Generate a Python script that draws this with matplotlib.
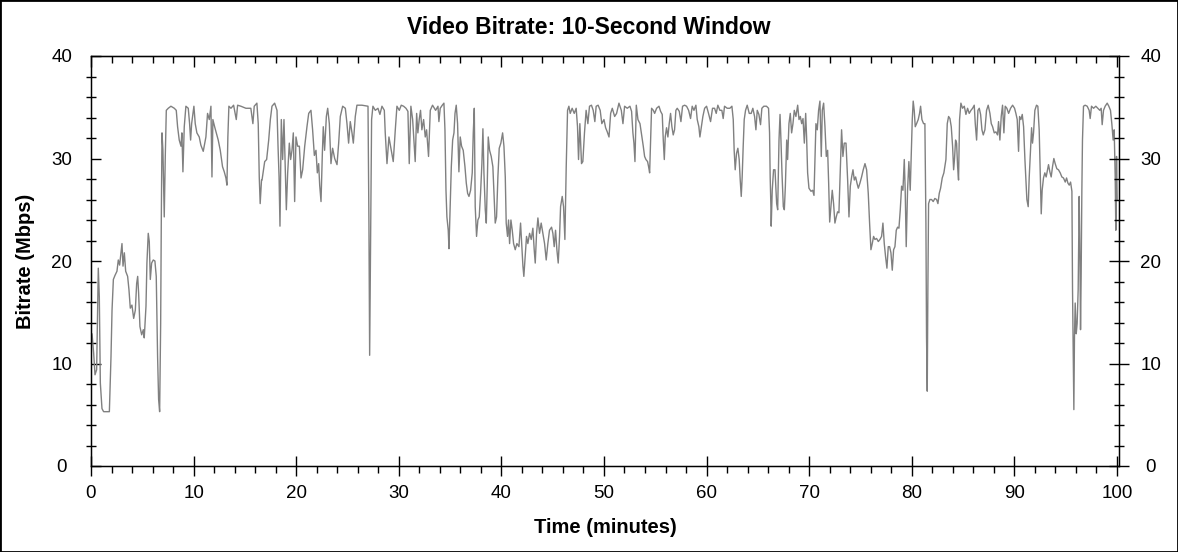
import matplotlib
matplotlib.use("Agg")
import matplotlib.pyplot as plt
from matplotlib.patches import Rectangle
from matplotlib.ticker import MultipleLocator

plt.rcParams['font.family'] = ['Liberation Sans', 'DejaVu Sans']

# minutes, Mbps
time_min = [
    0.0, 0.1, 0.26, 0.39, 0.55, 0.71, 0.81, 0.91, 1.07, 1.23, 1.79, 1.95, 2.05, 2.18, 2.34, 2.53, 2.66, 2.79,
    3.02, 3.12, 3.25, 3.38, 3.57, 3.70, 3.83, 3.99, 4.16, 4.32, 4.45, 4.55, 4.64, 4.77, 4.94, 5.10, 5.19, 5.36,
    5.45, 5.58, 5.68, 5.78, 5.91, 6.07, 6.23, 6.36, 6.49, 6.59, 6.69, 6.79, 6.85, 6.92, 7.01, 7.14, 7.24, 7.34,
    7.53, 7.79, 8.12, 8.31, 8.44, 8.60, 8.77, 8.86, 8.96, 9.09, 9.25, 9.48, 9.61, 9.71, 9.81, 9.94, 10.03, 10.16,
    10.32, 10.55, 10.71, 10.94, 11.20, 11.36, 11.53, 11.69, 11.79, 11.88, 12.05, 12.21, 12.40, 12.60, 12.82,
    12.99, 13.15, 13.25, 13.34, 13.44, 13.64, 13.90, 14.16, 14.29, 14.61, 15.10, 15.58, 15.78, 15.91, 16.17,
    16.30, 16.40, 16.49, 16.62,
    16.67, 16.93, 17.12, 17.32, 17.48, 17.64, 17.90, 18.13, 18.23, 18.33, 18.42, 18.55, 18.68, 18.81, 18.94,
    19.04, 19.17, 19.33, 19.46, 19.59, 19.72, 19.85, 19.98, 20.14, 20.31, 20.47, 20.63, 20.83, 21.05, 21.22,
    21.44, 21.60, 21.77, 21.93, 22.06, 22.19, 22.29, 22.42, 22.55, 22.64, 22.77, 22.94, 23.07, 23.23, 23.39,
    23.55, 23.75, 23.98, 24.14, 24.30, 24.53, 24.79, 24.95, 25.11, 25.27, 25.44, 25.57, 25.76, 25.92, 26.41,
    27.00, 27.09, 27.16, 27.25, 27.35, 27.48, 27.71, 27.97, 28.16, 28.36, 28.59, 28.68, 28.85, 29.04, 29.27,
    29.46, 29.66, 29.82, 30.05, 30.24, 30.47, 30.70, 30.89, 31.02, 31.18, 31.35, 31.47, 31.60, 31.74, 31.86,
    31.99, 32.12, 32.25, 32.42, 32.58, 32.71, 32.90, 33.07, 33.29,
    33.59, 33.82, 33.91, 34.04, 34.24, 34.40, 34.50, 34.60, 34.69, 34.82, 34.89, 34.99, 35.12, 35.25, 35.38,
    35.48, 35.60, 35.73, 35.86, 35.99, 36.12, 36.28, 36.45, 36.58, 36.71, 36.84, 37.00, 37.16, 37.26, 37.36,
    37.45, 37.58, 37.71, 37.84, 37.97, 38.10, 38.20, 38.30, 38.43, 38.53, 38.62, 38.72, 38.85, 39.01, 39.17,
    39.30, 39.40, 39.53, 39.66, 39.79, 39.95, 40.12, 40.25, 40.38, 40.47, 40.60, 40.70, 40.80, 40.93, 41.06,
    41.19, 41.35, 41.51, 41.71, 41.87, 42.00, 42.10, 42.19, 42.32, 42.45, 42.58, 42.75, 42.91, 43.07, 43.20,
    43.30, 43.43, 43.56, 43.72, 43.88, 44.04, 44.21, 44.37, 44.53, 44.69, 44.89, 45.02, 45.15, 45.28, 45.41,
    45.54, 45.67, 45.77, 45.93, 46.06, 46.19, 46.32, 46.45, 46.58, 46.71, 46.90, 47.10, 47.29, 47.42, 47.52,
    47.65, 47.81, 47.94, 48.10, 48.26, 48.43, 48.59, 48.78, 48.95, 49.11, 49.24, 49.43, 49.63, 49.79,
    50.00, 50.16, 50.32, 50.49, 50.65, 50.81, 51.04, 51.23, 51.46, 51.69, 51.85, 52.01, 52.27, 52.53, 52.69,
    52.82, 52.92, 53.02, 53.15, 53.31, 53.51, 53.70, 53.83, 53.96, 54.09, 54.25, 54.35, 54.45, 54.55, 54.64,
    54.81, 54.94, 55.13, 55.36, 55.52, 55.68, 55.78, 55.88, 55.97, 56.10, 56.23, 56.36, 56.49, 56.62, 56.75,
    56.88, 57.01, 57.14, 57.34, 57.50, 57.66, 57.86, 58.05, 58.25, 58.44, 58.60, 58.77, 58.96, 59.09, 59.25,
    59.35, 59.48, 59.64, 59.81, 60.00, 60.19, 60.39, 60.58, 60.78, 60.94, 61.10, 61.30, 61.49, 61.62, 61.75,
    62.01, 62.27, 62.47, 62.60, 62.69, 62.79, 62.92, 63.05, 63.18, 63.28, 63.38, 63.47, 63.57, 63.67, 63.80,
    63.96, 64.16, 64.35, 64.51, 64.68, 64.81, 64.94, 65.10, 65.26, 65.39, 65.58, 65.84, 66.04, 66.14, 66.20,
    66.27, 66.30, 66.40, 66.53,
    66.67, 66.83, 66.93, 67.06, 67.16, 67.25, 67.35, 67.48, 67.58, 67.68, 67.81, 67.90, 68.03, 68.16, 68.29,
    68.42, 68.55, 68.71, 68.88, 69.01, 69.14, 69.27, 69.40, 69.53, 69.66, 69.75, 69.85, 69.98, 70.18, 70.34,
    70.47, 70.57, 70.66, 70.79, 70.92, 71.05, 71.18, 71.28, 71.41, 71.54, 71.67, 71.80, 71.90, 72.00, 72.12,
    72.25, 72.38, 72.51, 72.64, 72.77, 72.90, 73.03, 73.16, 73.29, 73.42, 73.59, 73.75, 73.88, 74.01, 74.14,
    74.27, 74.40, 74.53, 74.66, 74.79, 74.95, 75.11, 75.27, 75.44, 75.60, 75.76, 75.89, 76.02, 76.15, 76.28,
    76.41, 76.57, 76.74, 76.90, 77.06, 77.19, 77.32, 77.45, 77.58, 77.71, 77.84, 77.97, 78.10, 78.23, 78.36,
    78.49, 78.62, 78.75, 78.88, 79.01, 79.14, 79.27, 79.36, 79.46, 79.59, 79.72, 79.85, 79.95, 80.05, 80.14,
    80.24, 80.34, 80.47, 80.63, 80.76, 80.86, 80.99, 81.15, 81.28, 81.38, 81.44, 81.51, 81.57, 81.64, 81.77,
    81.93, 82.09, 82.25, 82.42, 82.55, 82.68, 82.81, 82.97, 83.13,
    83.33, 83.46, 83.59, 83.72, 83.85, 83.98, 84.08, 84.17, 84.27, 84.37, 84.47, 84.56, 84.66, 84.79, 84.95,
    85.12, 85.28, 85.44, 85.60, 85.77, 85.93, 86.09, 86.19, 86.32, 86.45, 86.58, 86.71, 86.84, 86.97, 87.13,
    87.29, 87.45, 87.62, 87.75, 87.88, 88.04, 88.20, 88.36, 88.46, 88.59, 88.72, 88.85, 88.98, 89.11, 89.27,
    89.44, 89.63, 89.83, 90.02, 90.15, 90.28, 90.41, 90.51, 90.64, 90.77, 90.90, 91.03, 91.13, 91.22, 91.35,
    91.45, 91.58, 91.68, 91.77, 91.87, 92.00, 92.16, 92.29, 92.42, 92.52, 92.62, 92.71, 92.84, 92.97, 93.10,
    93.23, 93.33, 93.46, 93.59, 93.72, 93.85, 93.98, 94.14, 94.30, 94.47, 94.63, 94.79, 94.96, 95.09, 95.22,
    95.35, 95.48, 95.61, 95.67, 95.73, 95.80, 95.86, 95.93, 96.03, 96.12, 96.22, 96.32, 96.38, 96.45, 96.51,
    96.58, 96.64, 96.74, 96.90, 97.10, 97.29, 97.39, 97.52, 97.72, 97.94, 98.14, 98.33, 98.46, 98.56, 98.69,
    98.85, 99.05, 99.21, 99.37, 99.50, 99.63, 99.73, 99.83, 99.89, 99.96, 100.02,
]

bitrate_mbps = [
    12.0, 12.9, 11.0, 8.9, 9.4, 19.3, 16.5, 8.1, 5.6, 5.3, 5.3, 10.7, 15.2, 18.2, 18.6, 19.0, 20.1, 19.6,
    21.7, 19.5, 20.8, 19.0, 18.5, 17.2, 15.4, 15.7, 14.4, 15.2, 17.8, 18.5, 16.9, 13.6, 12.8, 13.3, 12.5, 15.6,
    19.8, 22.7, 21.9, 18.2, 19.8, 20.1, 20.0, 18.5, 10.7, 6.5, 5.3, 13.9, 23.7, 32.5, 30.8, 24.3, 30.2, 34.7,
    34.9, 35.1, 34.9, 34.7, 33.1, 31.8, 31.2, 32.5, 28.7, 33.1, 35.1, 34.9, 33.4, 31.8, 33.4, 34.4, 35.1, 33.4,
    32.5, 32.1, 31.3, 30.7, 32.1, 34.4, 33.8, 35.1, 28.2, 33.8, 33.1, 32.5, 31.8, 30.8, 29.2,
    28.7, 28.1, 27.4, 32.1, 35.1, 34.9, 35.2, 33.8, 35.2, 35.1, 34.9, 34.9, 33.4, 35.1, 35.4,
    33.4, 28.2, 25.6, 27.9,
    27.9, 29.7, 29.9, 31.8, 33.8, 35.1, 35.4, 34.7, 31.2, 28.2, 23.4, 33.8, 29.9, 33.8, 28.6,
    25.0, 28.6, 31.5, 29.9, 30.8, 32.5, 25.8, 32.1, 31.2, 31.2, 28.1, 28.9, 31.2, 33.1, 34.4,
    34.7, 32.8, 30.3, 30.8, 28.6, 29.5, 27.4, 25.8, 30.5, 33.1, 30.8, 34.1, 34.9, 33.4, 29.5,
    31.0, 30.0, 29.4, 31.5, 34.1, 35.1, 34.9, 33.4, 31.5, 33.6, 32.5, 31.5, 34.1, 35.2, 35.2,
    35.1, 23.7, 10.8, 22.1, 33.8, 35.1, 34.7, 34.9, 34.3, 35.1, 34.7, 32.5, 29.5, 32.1, 30.8,
    29.7, 32.8, 35.1, 34.7, 35.2, 35.1, 34.9, 34.6, 29.5, 35.1, 33.8, 31.8, 29.7, 34.4, 32.5,
    33.8, 34.7, 32.8, 33.8, 32.1, 32.8, 30.2, 34.7, 35.2,
    34.7, 35.1, 33.6, 34.9, 35.2, 35.4, 32.8, 26.9, 24.3, 23.0, 21.2, 24.7, 29.2, 31.8, 32.5,
    34.4, 35.2, 33.4, 28.7, 32.1, 31.2, 30.8, 29.2, 27.6, 26.6, 26.3, 26.9, 28.6, 32.5, 34.9,
    25.3, 22.4, 24.0, 24.3, 26.6, 29.5, 32.9, 28.6, 25.0, 23.7, 27.3, 32.1, 30.8, 30.2, 29.2,
    26.0, 23.7, 24.3, 28.2, 31.0, 31.5, 32.5, 31.2, 28.2, 23.7, 22.4, 24.0, 21.7, 24.0, 23.0,
    21.7, 21.1, 21.7, 21.4, 23.7, 21.4, 19.5, 18.5, 20.4, 22.4, 21.7, 22.7, 22.1, 23.2, 21.1,
    19.8, 22.7, 24.2, 22.7, 23.7, 22.7, 21.7, 20.1, 21.7, 23.0, 23.3, 22.7, 21.4, 23.0, 21.1,
    19.8, 22.4, 25.3, 26.3, 25.3, 22.1, 29.2, 34.7, 35.1, 34.4, 34.9, 34.4, 34.9, 33.1, 29.9,
    33.4, 29.5, 29.7, 32.5, 34.7, 33.4, 35.1, 35.2, 34.7, 33.6, 35.1, 35.2, 34.7, 33.4,
    33.8, 33.0, 32.6, 32.1, 34.4, 34.9, 34.1, 34.4, 35.4, 34.7, 33.4, 35.1, 34.9, 35.1, 34.6,
    32.5, 31.5, 29.7, 35.2, 33.8, 33.4, 32.1, 31.2, 30.2, 29.9, 29.7, 29.2, 28.6, 31.8, 34.9,
    34.7, 34.4, 34.9, 35.1, 34.6, 34.3, 31.8, 29.9, 32.1, 33.0, 32.1, 33.4, 34.4, 33.1, 32.3,
    32.8, 34.7, 34.9, 34.6, 33.6, 35.1, 35.2, 35.1, 34.7, 33.9, 35.1, 34.7, 35.2, 33.8, 33.1,
    32.1, 33.0, 34.1, 34.9, 35.1, 34.4, 33.6, 34.9, 34.9, 34.4, 35.2, 34.7, 34.7, 33.9, 35.1,
    34.9, 34.9, 35.1, 33.8, 30.8, 28.9, 30.5, 31.0, 29.9, 27.9, 26.3, 28.2, 31.2, 33.8, 34.7,
    35.2, 34.4, 34.4, 34.9, 34.1, 32.8, 34.7, 34.3, 33.3, 34.9, 35.1, 35.1, 34.9, 32.5, 28.2,
    25.3, 23.4, 26.9, 28.9,
    28.9, 25.6, 25.0, 31.8, 34.3, 31.8, 28.6, 25.3, 25.0, 27.3, 31.8, 29.9, 33.4, 34.4, 32.5,
    33.4, 34.7, 34.1, 35.2, 33.8, 34.1, 33.4, 33.9, 31.5, 34.4, 32.1, 28.6, 27.1, 26.8, 26.9,
    26.4, 30.2, 33.4, 32.8, 34.7, 35.6, 30.2, 34.7, 35.4, 33.1, 30.2, 30.8, 27.6, 23.8, 25.3,
    26.9, 25.6, 23.7, 24.3, 24.8, 24.7, 28.6, 32.8, 30.2, 31.5, 31.5, 27.9, 24.3, 27.3, 28.2,
    28.9, 27.9, 28.2, 27.6, 27.1, 27.6, 28.2, 28.9, 29.5, 28.9, 26.6, 23.7, 21.1, 21.7, 22.4,
    22.1, 22.2, 21.9, 22.1, 22.4, 23.7, 21.7, 20.4, 19.3, 21.4, 21.4, 20.8, 19.1, 21.1, 21.4,
    23.0, 23.3, 23.2, 25.0, 27.3, 26.9, 29.9, 26.9, 21.4, 26.9, 29.7, 26.9, 30.2, 33.8, 35.6,
    34.7, 33.1, 33.4, 33.8, 34.4, 35.1, 33.8, 33.4, 33.4, 23.7, 12.6, 7.3, 17.2, 25.6, 26.0,
    26.0, 25.8, 26.1, 26.0, 25.6, 26.6, 27.1, 28.1, 28.6,
    29.9, 33.4, 34.1, 33.9, 33.1, 31.2, 28.9, 30.0, 31.8, 31.5, 29.2, 27.9, 33.8, 35.4, 34.9,
    35.1, 34.3, 34.9, 34.4, 34.7, 34.9, 35.2, 33.4, 31.8, 34.7, 34.9, 34.3, 32.8, 32.3, 32.8,
    34.7, 35.2, 34.4, 33.4, 33.1, 32.5, 32.6, 32.3, 33.6, 31.8, 34.1, 35.2, 32.5, 35.1, 34.9,
    34.4, 34.9, 35.2, 34.9, 34.4, 33.8, 30.7, 34.1, 33.8, 34.3, 33.1, 29.9, 27.9, 26.0, 25.3,
    28.2, 30.8, 33.0, 31.5, 32.5, 34.7, 35.2, 35.1, 32.8, 28.6, 24.6, 26.9, 28.1, 28.6, 28.2,
    28.9, 29.4, 28.7, 28.2, 29.2, 30.0, 29.5, 29.0, 28.9, 28.6, 28.2, 28.1, 27.7, 28.1, 27.6,
    27.4, 27.7, 26.8, 17.2, 12.0, 5.5, 12.6, 15.9, 12.9, 13.9, 17.2, 26.3, 21.7, 13.3, 18.5,
    26.9, 31.8, 35.1, 35.2, 35.1, 34.7, 33.9, 35.1, 34.9, 35.1, 34.9, 34.7, 34.9, 33.3, 34.7,
    35.1, 35.4, 35.1, 34.7, 33.4, 31.8, 32.8, 28.2, 23.0, 30.2, 26.0,
]

y_ticks = [0, 10, 20, 30, 40]
x_ticks = [0, 10, 20, 30, 40, 50, 60, 70, 80, 90, 100]

fig = plt.figure(figsize=(11.78, 5.52), dpi=100)
ax = fig.add_axes([91 / 1178, 1 - 466 / 552, (1119 - 91) / 1178, (466 - 56) / 552])

ax.plot(time_min, bitrate_mbps, color='#808080', lw=1.0)

ax.set_xlim(0, 100.2)
ax.set_ylim(0, 40)
ax.set_xticks(x_ticks)
ax.set_yticks(y_ticks)
ax.xaxis.set_minor_locator(MultipleLocator(2))
ax.yaxis.set_minor_locator(MultipleLocator(2))
for s in ax.spines.values():
    s.set_linewidth(1.0)

ax.tick_params(axis='x', which='major', direction='inout', length=14, width=1, labelsize=13.5, pad=6.5)
ax.tick_params(axis='x', which='minor', direction='out', length=5, width=1)
ax.tick_params(axis='y', which='major', direction='in', length=7, width=1, labelsize=13.5, pad=21)
ax.tick_params(axis='y', which='minor', direction='inout', length=7, width=1)
for lbl in ax.get_yticklabels():
    lbl.set_horizontalalignment('center')

# right-hand axis
axr = ax.twinx()
axr.set_ylim(0, 40)
axr.set_yticks(y_ticks)
axr.yaxis.set_minor_locator(MultipleLocator(2))
axr.tick_params(axis='y', which='major', direction='inout', length=14, width=1, labelsize=13.5, pad=16)
axr.tick_params(axis='y', which='minor', direction='inout', length=7, width=1)
for lbl in axr.get_yticklabels():
    lbl.set_horizontalalignment('center')

# top ticks only
axt = ax.secondary_xaxis('top')
axt.set_xticks(x_ticks)
axt.xaxis.set_minor_locator(MultipleLocator(2))
axt.tick_params(axis='x', which='major', direction='in', length=8, width=1, labeltop=False)
axt.tick_params(axis='x', which='minor', direction='in', length=5, width=1)

ax.set_xlabel('Time (minutes)', fontsize=14.5, fontweight='bold', labelpad=12)
ax.set_ylabel('Bitrate (Mbps)', fontsize=14.5, fontweight='bold', labelpad=12)
fig.text(0.5, 0.951, 'Video Bitrate: 10-Second Window', ha='center', va='center',
         fontsize=16.5, fontweight='bold')

fig.patches.append(Rectangle((0, 0), 1, 1, transform=fig.transFigure, fill=False,
                             edgecolor='black', lw=2))

fig.savefig('out.png', dpi=100)
